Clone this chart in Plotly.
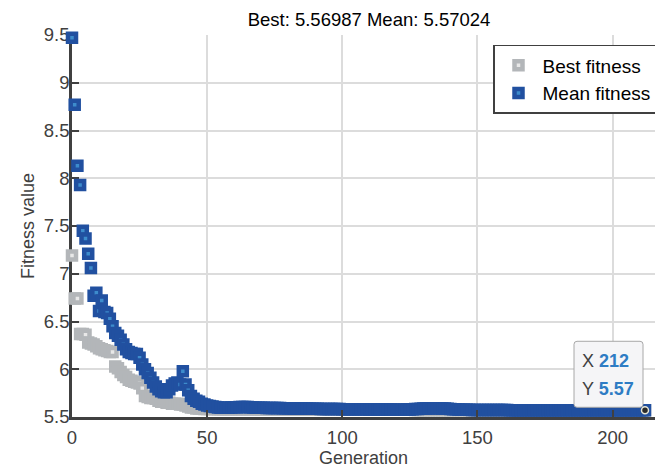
import plotly.graph_objects as go

# ---------------- data ----------------
generations = list(range(0, 213))

best_fitness = [
    7.19, 6.74, 6.74, 6.37, 6.37, 6.36, 6.28, 6.27, 6.26, 6.24,
    6.22, 6.21, 6.20, 6.19, 6.18, 6.18, 6.03, 6.01, 5.97, 5.94,
    5.92, 5.89, 5.88, 5.87, 5.86, 5.85, 5.80, 5.72, 5.71, 5.70,
    5.70, 5.69, 5.67, 5.66, 5.66, 5.65, 5.65, 5.64, 5.64, 5.64,
    5.63, 5.63, 5.62, 5.61, 5.60, 5.60, 5.59, 5.59, 5.59, 5.585,
    5.585, 5.584, 5.583, 5.583, 5.582, 5.582, 5.581, 5.581, 5.581, 5.580,
    5.580, 5.580, 5.580, 5.580, 5.580, 5.580, 5.580, 5.580, 5.580, 5.580,
    5.5798, 5.5798, 5.5797, 5.5797, 5.5796, 5.5796, 5.5795, 5.5795, 5.5794, 5.5794,
    5.5793, 5.5792, 5.5791, 5.5790, 5.5789, 5.5788, 5.5787, 5.5786, 5.5785, 5.5784,
    5.5783, 5.5782, 5.5781, 5.5780, 5.5779, 5.5778, 5.5777, 5.5776, 5.5775, 5.5774,
    5.5773, 5.5772, 5.5771, 5.5770, 5.5769, 5.5768, 5.5767, 5.5766, 5.5765, 5.5764,
    5.5763, 5.5762, 5.5761, 5.5760, 5.5759, 5.5758, 5.5757, 5.5756, 5.5755, 5.5754,
    5.5753, 5.5752, 5.5751, 5.5750, 5.5749, 5.5748, 5.5747, 5.5746, 5.5745, 5.5744,
    5.5743, 5.5742, 5.5741, 5.5740, 5.5739, 5.5738, 5.5737, 5.5736, 5.5735, 5.5734,
    5.5732, 5.5730, 5.5728, 5.5726, 5.5724, 5.5722, 5.5720, 5.5718, 5.5716, 5.5714,
    5.5712, 5.5710, 5.5709, 5.5708, 5.5707, 5.5706, 5.5705, 5.5704, 5.5703, 5.5702,
    5.5701, 5.5700, 5.5700, 5.5700, 5.5700, 5.5700, 5.5700, 5.5700, 5.5700, 5.5700,
    5.5700, 5.5700, 5.5700, 5.5700, 5.5700, 5.5700, 5.5700, 5.5700, 5.5700, 5.5700,
    5.56995, 5.56995, 5.56995, 5.56995, 5.56995, 5.56995, 5.56995, 5.56995, 5.56995, 5.56995,
    5.56995, 5.56995, 5.56995, 5.56995, 5.56995, 5.56990, 5.56990, 5.56990, 5.56990, 5.56990,
    5.56990, 5.56990, 5.56990, 5.56990, 5.56990, 5.56990, 5.56990, 5.56990, 5.56990, 5.56990,
    5.56988, 5.56988, 5.56987,
]

mean_fitness = [
    9.47, 8.77, 8.13, 7.93, 7.45, 7.37, 7.21, 7.06, 6.77, 6.80,
    6.61, 6.72, 6.60, 6.59, 6.53, 6.45, 6.38, 6.35, 6.31, 6.26,
    6.21, 6.18, 6.17, 6.16, 6.16, 6.12, 6.05, 6.00, 5.96, 5.91,
    5.86, 5.82, 5.79, 5.77, 5.76, 5.76, 5.79, 5.83, 5.85, 5.86,
    5.84, 5.98, 5.84, 5.78, 5.72, 5.69, 5.67, 5.66, 5.64, 5.63,
    5.62, 5.615, 5.61, 5.605, 5.600, 5.598, 5.597, 5.597, 5.598, 5.600,
    5.601, 5.603, 5.604, 5.605, 5.605, 5.604, 5.602, 5.600, 5.598, 5.597,
    5.596, 5.596, 5.595, 5.595, 5.594, 5.594, 5.593, 5.593, 5.592, 5.592,
    5.591, 5.591, 5.590, 5.590, 5.589, 5.589, 5.588, 5.588, 5.587, 5.587,
    5.586, 5.586, 5.585, 5.585, 5.584, 5.584, 5.584, 5.583, 5.583, 5.583,
    5.582, 5.582, 5.582, 5.581, 5.581, 5.581, 5.580, 5.580, 5.580, 5.580,
    5.579, 5.579, 5.579, 5.579, 5.578, 5.578, 5.578, 5.578, 5.578, 5.577,
    5.577, 5.577, 5.577, 5.577, 5.578, 5.579, 5.581, 5.583, 5.585, 5.587,
    5.589, 5.590, 5.591, 5.592, 5.592, 5.592, 5.591, 5.590, 5.588, 5.586,
    5.584, 5.582, 5.580, 5.578, 5.577, 5.576, 5.575, 5.575, 5.574, 5.574,
    5.574, 5.573, 5.573, 5.573, 5.573, 5.572, 5.572, 5.572, 5.572, 5.572,
    5.572, 5.572, 5.571, 5.571, 5.571, 5.571, 5.571, 5.571, 5.571, 5.571,
    5.571, 5.571, 5.571, 5.571, 5.571, 5.571, 5.571, 5.571, 5.5708, 5.5708,
    5.5708, 5.5707, 5.5707, 5.5707, 5.5706, 5.5706, 5.5706, 5.5706, 5.5705, 5.5705,
    5.5705, 5.5705, 5.5705, 5.5704, 5.5704, 5.5704, 5.5704, 5.5704, 5.5704, 5.5703,
    5.5703, 5.5703, 5.5703, 5.5703, 5.5703, 5.5703, 5.5703, 5.5703, 5.5703, 5.5703,
    5.5703, 5.5702, 5.57024,
]

x_ticks = [0, 50, 100, 150, 200]
y_ticks = [5.5, 6, 6.5, 7, 7.5, 8, 8.5, 9, 9.5]

# ---------------- styles ----------------
FONT = "Liberation Sans, Arial, Helvetica, sans-serif"
AX = "#404040"
GRID = "#dcdcdc"

fig = go.Figure()

fig.add_trace(go.Scatter(
    x=generations, y=best_fitness, mode="markers", name="Best fitness",
    marker=dict(symbol="square", size=8, color="#e8e8e8",
                line=dict(color="#b3b6b9", width=4.5)),
    cliponaxis=False, hoverinfo="skip",
))
fig.add_trace(go.Scatter(
    x=generations, y=mean_fitness, mode="markers", name="Mean fitness",
    marker=dict(symbol="square", size=8, color="#3d8ccc",
                line=dict(color="#2150a0", width=4.5)),
    cliponaxis=False, hoverinfo="skip",
))

# data tip point
last_x = generations[-1]
last_y = mean_fitness[-1]
fig.add_trace(go.Scatter(
    x=[last_x], y=[last_y], mode="markers", showlegend=False,
    marker=dict(symbol="circle", size=7, color="#2a2a2a",
                line=dict(color="#e6e6d6", width=1.5)),
    cliponaxis=False, hoverinfo="skip",
))

# rounded data-tip box (pixel offsets relative to the tip point)
fig.add_shape(
    type="path", xref="x", yref="y",
    xsizemode="pixel", ysizemode="pixel",
    xanchor=last_x, yanchor=last_y,
    path=("M -68,3 L -5,3 Q -2,3 -2,6 L -2,66 Q -2,69 -5,69 "
          "L -68,69 Q -71,69 -71,66 L -71,6 Q -71,3 -68,3 Z"),
    fillcolor="#f5f5f7", line=dict(color="#a8a8a8", width=1),
    layer="above",
)
VAL = "#2e7cc4"
fig.add_annotation(
    x=last_x, y=last_y, xref="x", yref="y", showarrow=False,
    xanchor="left", yanchor="middle", xshift=-65, yshift=49,
    text=f"X <b><span style='color:{VAL}'>{last_x}</span></b>",
    font=dict(family=FONT, size=18, color=AX),
)
fig.add_annotation(
    x=last_x, y=last_y, xref="x", yref="y", showarrow=False,
    xanchor="left", yanchor="middle", xshift=-65, yshift=21,
    text=f"Y <b><span style='color:{VAL}'>{last_y:.2f}</span></b>",
    font=dict(family=FONT, size=18, color=AX),
)

fig.update_layout(
    width=655, height=468,
    margin=dict(l=72, r=0, t=35, b=51, autoexpand=False),
    paper_bgcolor="white", plot_bgcolor="white",
    font=dict(family=FONT, color=AX),
    title=dict(
        text=f"Best: {best_fitness[-1]:.5f} Mean: {mean_fitness[-1]:.5f}",
        x=369 / 655, xanchor="center", y=1 - 20 / 468, yanchor="middle",
        font=dict(family=FONT, size=18.5, color="#000000"),
    ),
    showlegend=True,
    legend=dict(
        x=(493 - 72) / 583, xanchor="left", y=0.974, yanchor="top",
        bordercolor=AX, borderwidth=1.5, bgcolor="white",
        font=dict(family=FONT, size=19, color="#000000"),
        tracegroupgap=0, itemwidth=38,
    ),
    xaxis=dict(
        range=[0, 215.7], tickvals=x_ticks, automargin=False,
        showgrid=True, gridcolor=GRID, gridwidth=1.5,
        showline=True, linecolor=AX, linewidth=2.5,
        ticks="inside", ticklen=7, tickwidth=2, tickcolor=AX,
        tickfont=dict(family=FONT, size=18.5, color=AX),
        ticklabelstandoff=2,
        zeroline=False, layer="above traces",
        title=dict(text="Generation", standoff=0,
                   font=dict(family=FONT, size=18, color=AX)),
    ),
    yaxis=dict(
        range=[5.5, 9.5], tickvals=y_ticks, automargin=False,
        showgrid=True, gridcolor=GRID, gridwidth=1.5,
        showline=True, linecolor=AX, linewidth=2.5,
        ticks="inside", ticklen=7, tickwidth=2, tickcolor=AX,
        tickfont=dict(family=FONT, size=18.5, color=AX),
        ticklabelstandoff=-4,
        zeroline=False, layer="below traces",
        title=dict(text="Fitness value", standoff=5,
                   font=dict(family=FONT, size=18, color=AX)),
    ),
)

fig.write_html("out.html", config={"displayModeBar": False},
               post_script="document.body.style.margin='0';")
